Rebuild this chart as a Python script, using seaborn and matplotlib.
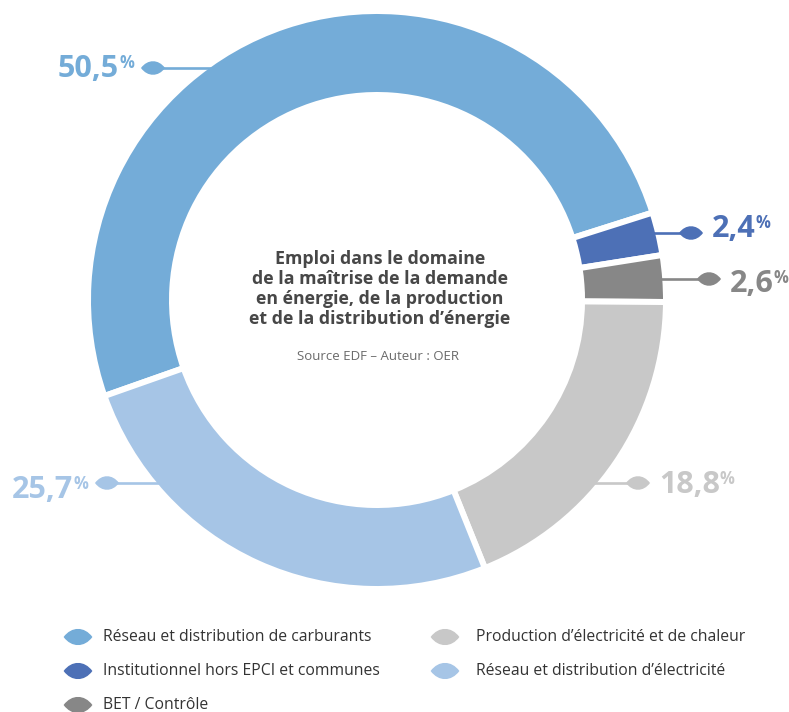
import numpy as np
import matplotlib
matplotlib.use("Agg")
import matplotlib.pyplot as plt
from matplotlib.path import Path
import seaborn as sns

# données
categories = ["Réseau et distribution de carburants",
              "Institutionnel hors EPCI et communes",
              "BET / Contrôle",
              "Production d’électricité et de chaleur",
              "Réseau et distribution d’électricité"]
values = [50.5, 2.4, 2.6, 18.8, 25.7]
value_labels = ["50,5", "2,4", "2,6", "18,8", "25,7"]
colors = ["#74acd8", "#4d70b6", "#878787", "#c8c8c8", "#a6c5e6"]

# mise en page (pixels, origine en haut à gauche)
W, H = 789, 712
cx, cy = 377, 300
r_out, r_in = 286, 208
gap = 6
leaf_x = [153, 691, 709, 638, 107]
leaf_y = [68, 233, 279, 483, 483]
text_base = [77, 237, 292, 493, 498]
side = ["left", "right", "right", "right", "left"]

sns.set_theme(style="white")
plt.rcParams["font.family"] = ["Open Sans", "DejaVu Sans"]

fig = plt.figure(figsize=(W / 100, H / 100), dpi=100)
ax = fig.add_axes([0, 0, 1, 1])


def Y(y):
    return H - y


# anneau
ax.pie(values, colors=colors, startangle=199.4, counterclock=False,
       radius=r_out + gap / 2, center=(cx, Y(cy)),
       wedgeprops=dict(width=r_out - r_in + gap, edgecolor="white", linewidth=gap * 0.72))
ax.set_xlim(0, W)
ax.set_ylim(0, H)
ax.set_aspect("equal")
ax.axis("off")

# marqueur en forme de feuille
leaf = Path([(-1, 0), (-0.45, 0.75), (0.45, 0.75), (1, 0),
             (0.45, -0.75), (-0.45, -0.75), (-1, 0)],
            [Path.MOVETO, Path.CURVE4, Path.CURVE4, Path.CURVE4,
             Path.CURVE4, Path.CURVE4, Path.CURVE4])

# traits de rappel
for lx, ly, sd, c in zip(leaf_x, leaf_y, side, colors):
    dx = np.sqrt(r_out ** 2 - (ly - cy) ** 2)
    edge = cx - dx + 12 if sd == "left" else cx + dx - 12
    ax.plot([lx, edge], [Y(ly), Y(ly)], color=c, lw=1.9, zorder=3,
            solid_capstyle="butt")

sns.scatterplot(x=leaf_x, y=[Y(v) for v in leaf_y], hue=categories,
                palette=colors, marker=leaf, s=300, linewidth=0,
                legend=False, ax=ax, zorder=4)

# étiquettes des pourcentages
renderer = fig.canvas.get_renderer()
for lx, tb, sd, lab, c in zip(leaf_x, text_base, side, value_labels, colors):
    num = ax.text(0, Y(tb), lab, fontsize=22, fontweight="bold", color=c,
                  ha="left", va="baseline", zorder=5)
    pct = ax.text(0, Y(tb - 23), "%", fontsize=12, fontweight="bold", color=c,
                  ha="left", va="top", zorder=5)
    wn = num.get_window_extent(renderer).width
    wp = pct.get_window_extent(renderer).width
    if sd == "right":
        x0 = lx + 21
    else:
        x0 = lx - 21 - wp - wn + 2
    num.set_x(x0)
    pct.set_x(x0 + wn)

# titre central
title = ("Emploi dans le domaine\nde la maîtrise de la demande\n"
         "en énergie, de la production\net de la distribution d’énergie")
ax.text(380, Y(289), title, fontsize=12.8, fontweight="bold", color="#474747",
        ha="center", va="center", linespacing=1.12, zorder=5)
ax.text(378, Y(357), "Source EDF – Auteur : OER", fontsize=9.5, color="#6a6a6a",
        ha="center", va="center", zorder=5)

# légende
leg_x = [78, 78, 78, 445, 445]
leg_y = [637, 671, 705, 637, 671]
sns.scatterplot(x=leg_x, y=[Y(v) for v in leg_y], hue=categories,
                palette=colors, marker=leaf, s=430, linewidth=0,
                legend=False, ax=ax, zorder=4)
for lx, ly, cat in zip(leg_x, leg_y, categories):
    ax.text(lx + 25 if lx < 200 else lx + 31, Y(ly), cat, fontsize=11.3,
            color="#333333", ha="left", va="center")

fig.savefig("out.png", dpi=100)
